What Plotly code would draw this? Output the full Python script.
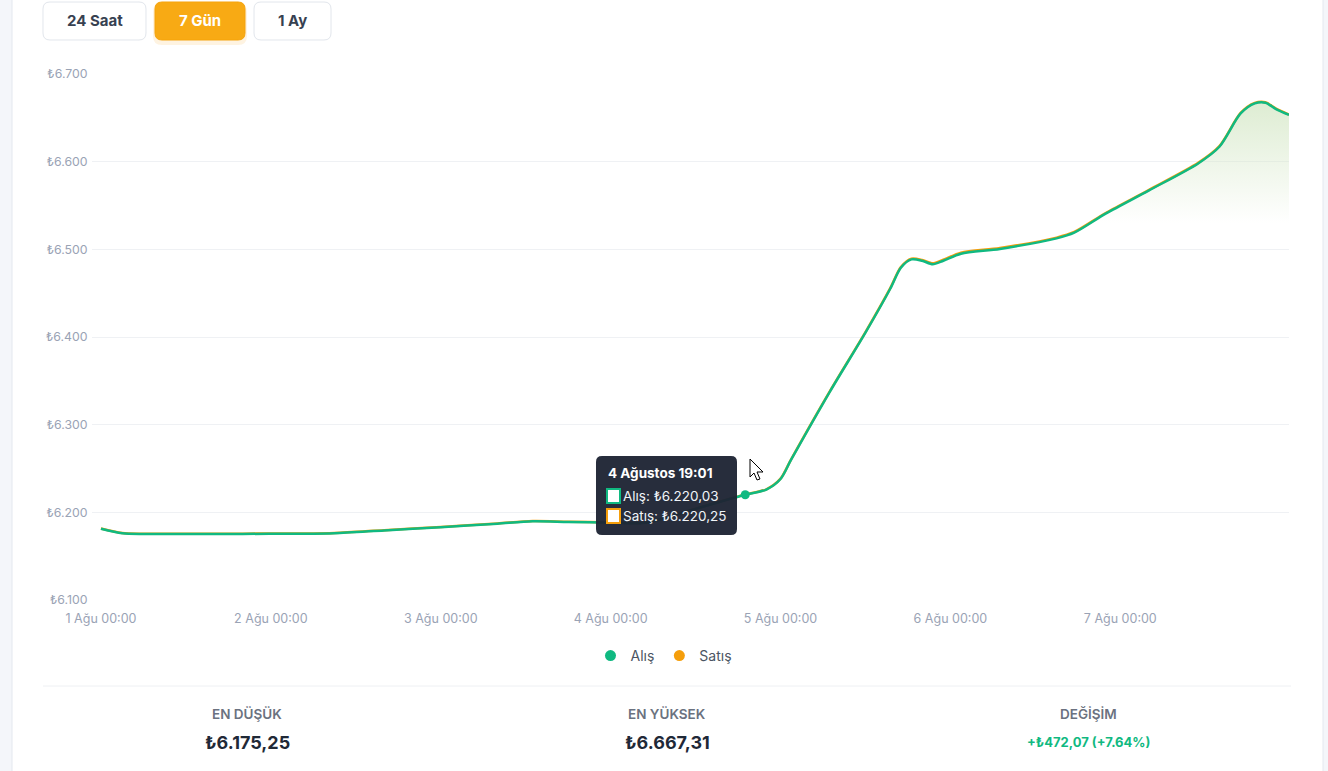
import plotly.graph_objects as go

# price samples, 1-7 Ağustos
zaman = [
    "2025-08-01 00:00", "2025-08-01 03:00", "2025-08-01 06:00", "2025-08-01 12:00",
    "2025-08-01 20:00", "2025-08-02 04:00", "2025-08-02 09:00", "2025-08-02 16:00",
    "2025-08-03 00:00", "2025-08-03 08:00", "2025-08-03 13:00", "2025-08-03 18:00",
    "2025-08-04 00:00", "2025-08-04 05:00", "2025-08-04 12:00", "2025-08-04 19:01",
    "2025-08-04 22:00", "2025-08-05 00:00", "2025-08-05 01:30", "2025-08-05 07:00",
    "2025-08-05 12:00", "2025-08-05 15:30", "2025-08-05 17:00", "2025-08-05 18:30",
    "2025-08-05 20:00", "2025-08-05 21:30", "2025-08-05 23:00", "2025-08-06 01:30",
    "2025-08-06 07:00", "2025-08-06 15:00", "2025-08-06 17:30", "2025-08-06 22:00",
    "2025-08-07 04:00", "2025-08-07 11:00", "2025-08-07 14:00", "2025-08-07 17:00",
    "2025-08-07 19:00", "2025-08-07 20:30", "2025-08-07 22:00", "2025-08-07 23:50",
]
alis = [
    6181.25, 6176.10, 6175.25, 6175.30, 6175.40, 6175.60, 6176.20, 6179.40,
    6183.00, 6187.10, 6189.80, 6189.00, 6188.20, 6188.10, 6204.00, 6220.03,
    6226.00, 6238.00, 6260.00, 6338.00, 6405.00, 6455.00, 6479.00, 6488.50,
    6487.00, 6483.00, 6487.00, 6495.00, 6500.50, 6512.50, 6519.00, 6541.00,
    6567.00, 6598.00, 6617.00, 6655.00, 6666.50, 6667.31, 6660.00, 6653.32,
]
satis = [
    6181.50, 6176.35, 6175.50, 6175.55, 6175.70, 6175.90, 6176.50, 6179.70,
    6183.30, 6187.40, 6190.10, 6189.30, 6188.50, 6188.40, 6204.25, 6220.25,
    6226.30, 6238.40, 6260.50, 6338.50, 6405.60, 6455.70, 6479.80, 6489.40,
    6487.90, 6484.00, 6488.10, 6496.20, 6501.60, 6513.40, 6519.80, 6541.70,
    6567.60, 6598.60, 6617.70, 6655.60, 6667.00, 6667.80, 6660.50, 6653.80,
]
gun_tick = ["2025-08-01", "2025-08-02", "2025-08-03", "2025-08-04",
            "2025-08-05", "2025-08-06", "2025-08-07"]
gun_text = ["1 Ağu 00:00", "2 Ağu 00:00", "3 Ağu 00:00", "4 Ağu 00:00",
            "5 Ağu 00:00", "6 Ağu 00:00", "7 Ağu 00:00"]
hover_i = 15

GREEN = "#10b981"
ORANGE = "#f59e0b"
FONT = "Inter"
W, H = 1328, 771
L, R, T, B = 92, 1289, 74, 600


def p(x, y):
    # pixel -> paper coords
    return (x - L) / (R - L), (B - y) / (B - T)


def tl(v):
    s = f"{v:,.2f}"
    return "₺" + s.replace(",", "#").replace(".", ",").replace("#", ".")


def rrect(x0, y0, x1, y1, r):
    def P(x, y):
        a, b = p(x, y)
        return f"{a:.5f},{b:.5f}"
    return (f"M{P(x0 + r, y0)} L{P(x1 - r, y0)} Q{P(x1, y0)} {P(x1, y0 + r)} "
            f"L{P(x1, y1 - r)} Q{P(x1, y1)} {P(x1 - r, y1)} L{P(x0 + r, y1)} "
            f"Q{P(x0, y1)} {P(x0, y1 - r)} L{P(x0, y0 + r)} Q{P(x0, y0)} {P(x0 + r, y0)} Z")


fig = go.Figure()
fig.add_trace(go.Scatter(
    x=zaman, y=satis, mode="lines", name="Satış", showlegend=False,
    line=dict(color=ORANGE, width=2.5, shape="spline", smoothing=0.8),
    fill="tozeroy",
    fillgradient=dict(type="vertical", start=6530, stop=6700,
                      colorscale=[[0, "rgba(214,232,200,0)"], [1, "rgba(214,232,200,1)"]]),
))
fig.add_trace(go.Scatter(
    x=zaman, y=alis, mode="lines", name="Alış", showlegend=False,
    line=dict(color=GREEN, width=2.5, shape="spline", smoothing=0.8),
))
fig.add_trace(go.Scatter(
    x=[zaman[hover_i]], y=[alis[hover_i]], mode="markers", showlegend=False,
    marker=dict(color=GREEN, size=9),
))
# legend entries as dots
fig.add_trace(go.Scatter(x=[None], y=[None], mode="markers", name="Alış",
                         marker=dict(color=GREEN, size=11)))
fig.add_trace(go.Scatter(x=[None], y=[None], mode="markers", name="Satış",
                         marker=dict(color=ORANGE, size=11)))

shapes = []
ann = []

# card
shapes.append(dict(type="rect", xref="paper", yref="paper", layer="below",
                   x0=p(12, 0)[0], x1=p(1323, 0)[0], y0=p(0, -20)[1], y1=p(0, 800)[1],
                   fillcolor="white", line=dict(color="#e4e8ef", width=1)))
# buttons
btns = [("24 Saat", 43, 146, False), ("7 Gün", 155, 245, True), ("1 Ay", 254, 331, False)]
for txt, x0, x1, active in btns:
    if active:
        shapes.append(dict(type="path", xref="paper", yref="paper", layer="below",
                           path=rrect(x0 - 2, 3, x1 + 2, 45, 9),
                           fillcolor="rgba(245,158,11,0.12)", line=dict(width=0)))
    shapes.append(dict(type="path", xref="paper", yref="paper", layer="below",
                       path=rrect(x0, 2, x1, 40, 7),
                       fillcolor="#f8aa14" if active else "white",
                       line=dict(color="#f5a30c" if active else "#e2e6ec", width=1)))
    ann.append(dict(xref="paper", yref="paper", x=p((x0 + x1) / 2, 0)[0], y=p(0, 21)[1],
                    text=f"<b>{txt}</b>", showarrow=False, xanchor="center", yanchor="middle",
                    font=dict(family=FONT, size=15, weight=600,
                              color="white" if active else "#374151")))

# tooltip
shapes.append(dict(type="path", xref="paper", yref="paper", layer="above",
                   path=rrect(596, 456, 737, 535, 6),
                   fillcolor="rgba(30,36,52,0.96)", line=dict(width=0)))
for yy, col in [(489, GREEN), (509, ORANGE)]:
    a0, b0 = p(607, yy)
    a1, b1 = p(620, yy + 14)
    shapes.append(dict(type="rect", xref="paper", yref="paper", layer="above",
                       x0=a0, x1=a1, y0=b1, y1=b0, fillcolor="white",
                       line=dict(color=col, width=2)))
ann.append(dict(xref="paper", yref="paper", x=p(606, 0)[0], y=p(0, 473)[1],
                text="<b>4 Ağustos 19:01</b>", showarrow=False, xanchor="left", yanchor="middle",
                font=dict(family=FONT, size=13.5, color="white")))
ann.append(dict(xref="paper", yref="paper", x=p(621, 0)[0], y=p(0, 496)[1],
                text=f"Alış: {tl(alis[hover_i])}", showarrow=False, xanchor="left",
                yanchor="middle", font=dict(family=FONT, size=13.5, color="#f1f5f9")))
ann.append(dict(xref="paper", yref="paper", x=p(621, 0)[0], y=p(0, 516)[1],
                text=f"Satış: {tl(satis[hover_i])}", showarrow=False, xanchor="left",
                yanchor="middle", font=dict(family=FONT, size=13.5, color="#f1f5f9")))

# mouse cursor
cur = [(750, 459), (750, 477), (754, 473), (757, 480), (760, 479), (757, 472), (763, 472)]
d = "M" + " L".join("%.5f,%.5f" % p(cx, cy) for cx, cy in cur) + " Z"
shapes.append(dict(type="path", xref="paper", yref="paper", layer="above", path=d,
                   fillcolor="white", line=dict(color="black", width=1)))

# separator + stats
a0, b0 = p(43, 686)
a1, _ = p(1291, 686)
shapes.append(dict(type="line", xref="paper", yref="paper", x0=a0, x1=a1, y0=b0, y1=b0,
                   line=dict(color="#eef0f3", width=1)))
lo, hi = min(alis), max(alis)
deg = alis[-1] - alis[0]
pct = deg / alis[0] * 100
stats = [
    (247, "EN DÜŞÜK", tl(lo), "#1f2937", 18),
    (667, "EN YÜKSEK", tl(hi), "#1f2937", 18),
    (1088, "DEĞİŞİM", f"+{tl(deg)} (+{pct:.2f}%)", GREEN, 13),
]
for cx, lab, val, col, sz in stats:
    ann.append(dict(xref="paper", yref="paper", x=p(cx, 0)[0], y=p(0, 714)[1], text=lab,
                    showarrow=False, xanchor="center", yanchor="middle",
                    font=dict(family=FONT, size=13.5, weight=600, color="#6b7280")))
    ann.append(dict(xref="paper", yref="paper", x=p(cx, 0)[0], y=p(0, 742)[1], text=f"<b>{val}</b>",
                    showarrow=False, xanchor="center", yanchor="middle",
                    font=dict(family=FONT, size=sz, color=col)))

fig.update_layout(
    width=W, height=H, autosize=False,
    margin=dict(l=L, r=W - R, t=T, b=H - B, pad=0),
    paper_bgcolor="#f4f6fa", plot_bgcolor="rgba(0,0,0,0)",
    separators=",.",
    font=dict(family=FONT, size=12, color="#9aa3b5"),
    hovermode=False,
    shapes=shapes, annotations=ann,
    legend=dict(orientation="h", xanchor="center", yanchor="middle",
                x=p(664, 0)[0], y=p(0, 656)[1], bgcolor="rgba(0,0,0,0)",
                font=dict(family=FONT, size=14, color="#4b5563"), itemwidth=30),
)
fig.update_xaxes(type="date", range=["2025-07-31 22:44", "2025-08-07 23:50"],
                 tickvals=gun_tick, ticktext=gun_text, showgrid=False, zeroline=False,
                 showline=False, ticks="outside", ticklen=7, tickcolor="rgba(0,0,0,0)",
                 tickfont=dict(family=FONT, size=12.5, color="#9aa3b5"))
fig.update_yaxes(range=[6100, 6700], dtick=100, tickprefix="₺", tickformat=",d",
                 showgrid=True, gridcolor="#eff1f4", zeroline=False, showline=False,
                 ticks="outside", ticklen=1, tickcolor="rgba(0,0,0,0)",
                 tickfont=dict(family=FONT, size=12.3, color="#9aa3b5"))

fig.write_html("out.html", config={"displayModeBar": False},
               post_script="document.body.style.margin='0';document.body.style.overflow='hidden';")
